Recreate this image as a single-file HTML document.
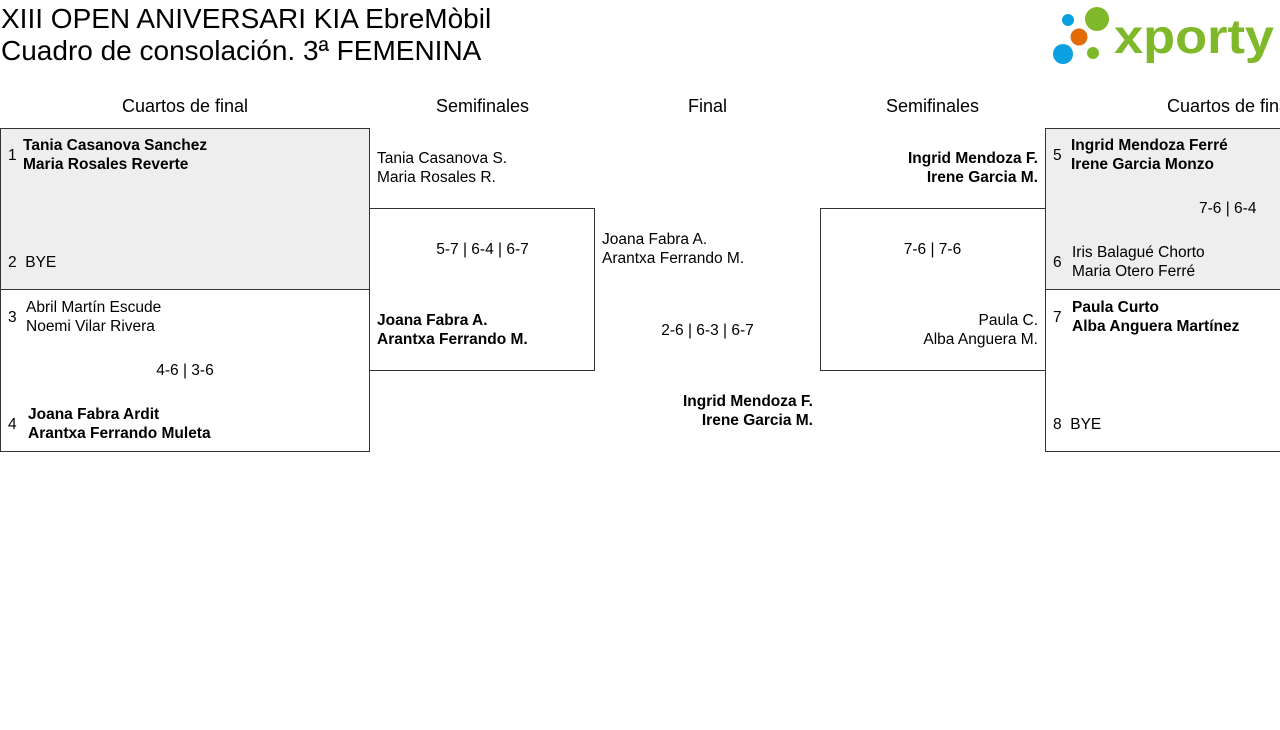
<!DOCTYPE html>
<html><head><meta charset="utf-8"><style>
body{margin:0;width:1280px;height:730px;background:#fff;font-family:"Liberation Sans",sans-serif;color:#000;position:relative;overflow:hidden}
.a{position:absolute;white-space:nowrap}
.t{font-size:28px;line-height:33px;left:1px}
.h{font-size:18px;text-align:center;top:96px}
.s{font-size:15.5px;line-height:19px}
.b{font-weight:bold}
.box{position:absolute;border:1px solid #333;box-sizing:border-box}
.g{background:#eee}
</style></head><body>
<div class="a t" style="top:2px">XIII OPEN ANIVERSARI KIA EbreMòbil</div>
<div class="a t" style="top:34px">Cuadro de consolación. 3ª FEMENINA</div>
<svg class="a" style="left:1050px;top:3px" width="228" height="64" viewBox="0 0 228 64">
<circle cx="18" cy="17" r="6" fill="#0ba0e0"/><circle cx="47" cy="16" r="12" fill="#7fb929"/>
<circle cx="29" cy="34" r="8.5" fill="#e36c0a"/><circle cx="13" cy="51" r="10" fill="#0ba0e0"/>
<circle cx="43" cy="50" r="6" fill="#7fb929"/>
<text x="64" y="50" font-family="Liberation Sans,sans-serif" font-weight="bold" font-size="48" fill="#7fb929" textLength="160" lengthAdjust="spacingAndGlyphs">xporty</text>
</svg>
<div class="a h" style="left:0;width:370px">Cuartos de final</div>
<div class="a h" style="left:370px;width:225px">Semifinales</div>
<div class="a h" style="left:595px;width:225px">Final</div>
<div class="a h" style="left:820px;width:225px">Semifinales</div>
<div class="a h" style="left:1045px;width:370px">Cuartos de final</div>

<div class="box g" style="left:0;top:128px;width:370px;height:162px"></div>
<div class="box" style="left:0;top:289px;width:370px;height:163px"></div>
<div class="box" style="left:369px;top:208px;width:226px;height:163px"></div>
<div class="box" style="left:820px;top:208px;width:226px;height:163px"></div>
<div class="box g" style="left:1045px;top:128px;width:260px;height:162px"></div>
<div class="box" style="left:1045px;top:289px;width:260px;height:163px"></div>

<div class="a s" style="left:8px;top:146px">1</div>
<div class="a s b" style="left:23px;top:136px">Tania Casanova Sanchez<br>Maria Rosales Reverte</div>
<div class="a s" style="left:8px;top:253px">2&nbsp;&nbsp;BYE</div>
<div class="a s" style="left:8px;top:308px">3</div>
<div class="a s" style="left:26px;top:298px">Abril Martín Escude<br>Noemi Vilar Rivera</div>
<div class="a s" style="left:0;width:370px;text-align:center;top:361px">4-6 | 3-6</div>
<div class="a s" style="left:8px;top:415px">4</div>
<div class="a s b" style="left:28px;top:405px">Joana Fabra Ardit<br>Arantxa Ferrando Muleta</div>

<div class="a s" style="left:377px;top:149px">Tania Casanova S.<br>Maria Rosales R.</div>
<div class="a s" style="left:370px;width:225px;text-align:center;top:240px">5-7 | 6-4 | 6-7</div>
<div class="a s b" style="left:377px;top:311px">Joana Fabra A.<br>Arantxa Ferrando M.</div>

<div class="a s" style="left:602px;top:230px">Joana Fabra A.<br>Arantxa Ferrando M.</div>
<div class="a s" style="left:595px;width:225px;text-align:center;top:321px">2-6 | 6-3 | 6-7</div>
<div class="a s b" style="right:467px;top:392px;text-align:right">Ingrid Mendoza F.<br>Irene Garcia M.</div>

<div class="a s b" style="right:242px;top:149px;text-align:right">Ingrid Mendoza F.<br>Irene Garcia M.</div>
<div class="a s" style="left:820px;width:225px;text-align:center;top:240px">7-6 | 7-6</div>
<div class="a s" style="right:242px;top:311px;text-align:right">Paula C.<br>Alba Anguera M.</div>

<div class="a s" style="left:1053px;top:146px">5</div>
<div class="a s b" style="left:1071px;top:136px">Ingrid Mendoza Ferré<br>Irene Garcia Monzo</div>
<div class="a s" style="left:1199px;top:199px">7-6 | 6-4</div>
<div class="a s" style="left:1053px;top:253px">6</div>
<div class="a s" style="left:1072px;top:243px">Iris Balagué Chorto<br>Maria Otero Ferré</div>
<div class="a s" style="left:1053px;top:308px">7</div>
<div class="a s b" style="left:1072px;top:298px">Paula Curto<br>Alba Anguera Martínez</div>
<div class="a s" style="left:1053px;top:415px">8&nbsp;&nbsp;BYE</div>
</body></html>
